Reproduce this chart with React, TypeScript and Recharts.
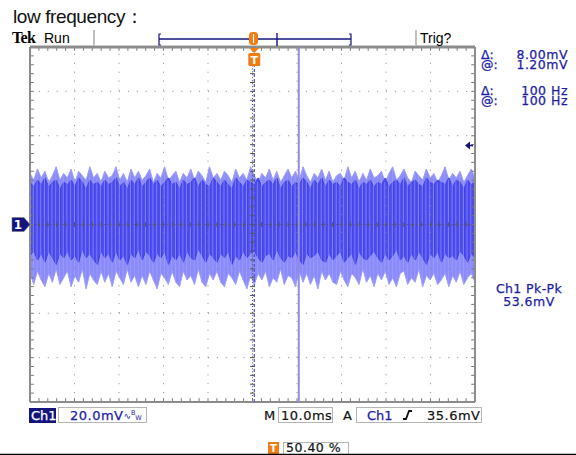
import React from "react";
import {
  ComposedChart,
  Area,
  Bar,
  XAxis,
  YAxis,
  ReferenceLine,
  ReferenceDot,
} from "recharts";

document.body.style.margin = "0";

// noise trace, in mV (20 mV/div), 120 samples over 100 ms
const SPIKE_HI = [
  23, 20, 25, 21, 24, 19, 22, 26, 20, 23,
  21, 25, 19, 24, 22, 20, 26, 21, 23, 19,
  24, 21, 22, 26, 20, 23, 19, 25, 21, 24,
  20, 22, 25, 19, 23, 21, 26, 20, 22, 24,
  19, 23, 21, 25, 20, 24, 22, 19, 26, 21,
  23, 20, 24, 22, 19, 25, 21, 23, 20, 26,
  22, 19, 23, 21, 25, 20, 24, 19, 22, 25,
  21, 24, 20, 26, 22, 19, 23, 21, 25, 20,
  24, 19, 22, 23, 20, 26, 21, 24, 19, 23,
  20, 25, 21, 22, 24, 19, 23, 26, 20, 22,
  25, 21, 19, 24, 22, 20, 25, 21, 23, 19,
  22, 26, 20, 23, 21, 24, 19, 22, 25, 21,
];
const SPIKE_LO = [
  -22, -27, -21, -25, -28, -22, -26, -20, -27, -24,
  -21, -28, -23, -26, -20, -29, -22, -25, -27, -21,
  -26, -22, -28, -21, -24, -27, -20, -26, -23, -28,
  -23, -27, -21, -25, -29, -22, -24, -27, -21, -26,
  -28, -21, -25, -23, -27, -20, -26, -28, -22, -25,
  -21, -26, -28, -22, -24, -27, -21, -25, -29, -23,
  -27, -22, -25, -21, -28, -24, -26, -20, -27, -23,
  -24, -28, -21, -26, -22, -27, -23, -29, -21, -25,
  -22, -26, -27, -21, -25, -28, -22, -24, -27, -20,
  -26, -23, -28, -22, -25, -21, -27, -24, -28, -22,
  -21, -27, -24, -26, -20, -28, -23, -25, -22, -27,
  -25, -22, -28, -23, -26, -21, -27, -24, -22, -26,
];
const BAND_HI = [
  19, 17, 20, 18, 21, 17, 19, 20, 16, 19,
  18, 20, 17, 21, 19, 16, 20, 18, 19, 17,
  20, 18, 19, 21, 17, 19, 16, 20, 18, 21,
  17, 19, 21, 18, 20, 17, 19, 21, 18, 19,
  16, 20, 18, 19, 21, 17, 20, 18, 17, 21,
  19, 17, 20, 18, 16, 21, 19, 17, 20, 19,
  18, 21, 17, 19, 20, 18, 21, 16, 19, 20,
  17, 19, 18, 21, 19, 16, 20, 18, 21, 17,
  20, 18, 19, 17, 21, 19, 18, 20, 16, 19,
  18, 20, 17, 19, 18, 21, 17, 19, 20, 18,
  21, 17, 19, 20, 18, 17, 21, 19, 18, 20,
  19, 18, 21, 17, 20, 19, 16, 20, 18, 19,
];
const BAND_LO = [
  -14, -12, -16, -13, -17, -12, -15, -18, -13, -15,
  -12, -16, -14, -17, -11, -15, -13, -16, -18, -12,
  -15, -13, -17, -12, -16, -14, -18, -13, -15, -11,
  -16, -12, -14, -17, -13, -15, -12, -18, -14, -16,
  -13, -17, -12, -15, -16, -11, -14, -17, -13, -15,
  -17, -13, -15, -12, -18, -14, -16, -12, -15, -13,
  -12, -15, -17, -14, -13, -16, -11, -15, -17, -14,
  -15, -12, -16, -18, -13, -15, -14, -12, -16, -17,
  -13, -16, -14, -12, -17, -15, -13, -18, -12, -15,
  -16, -14, -12, -15, -17, -13, -16, -14, -11, -16,
  -14, -17, -13, -16, -12, -15, -18, -13, -15, -12,
  -17, -13, -15, -14, -16, -12, -14, -17, -13, -15,
];

const SCREEN_MS = 100;
const TRIGGER_MS = 50.4;
const CURSOR_MS = 60.4;
const TRIGGER_LEVEL_MV = 35.6;

const X_MAJOR = [10, 20, 30, 40, 60, 70, 80, 90];
const Y_MAJOR = [-60, -40, -20, 20, 40, 60];
const X_MINOR = Array.from({ length: 51 }, (_, i) => i * 2);
const Y_MINOR = Array.from({ length: 41 }, (_, i) => -80 + i * 4);

const traceData = SPIKE_HI.map((_, i) => ({
  t: (i * SCREEN_MS) / (SPIKE_HI.length - 1),
  spikes: [SPIKE_LO[i], SPIKE_HI[i]],
  band: [BAND_LO[i], BAND_HI[i]],
}));

const BLUE = "#1c1ca6";
const NAVY = "#14147e";
const ORANGE = "#f07d12";
const MONO = "'DejaVu Sans', sans-serif";

function seg(key: string, a: any, b: any, color = "#777") {
  return (
    <ReferenceLine
      key={key}
      segment={[a, b]}
      stroke={color}
      strokeWidth={1}
      ifOverflow="visible"
    />
  );
}

function TriggerMarker(props: any) {
  const { cx, cy } = props;
  return (
    <g>
      <path d={`M${cx - 5},${cy + 1} L${cx + 5},${cy + 1} L${cx},${cy + 6} Z`} fill={ORANGE} />
      <rect x={cx - 6} y={cy + 6} width={12} height={13} rx={1.5} fill={ORANGE} />
      <text x={cx} y={cy + 17} textAnchor="middle" fontFamily={MONO} fontWeight="bold" fontSize={11} fill="#fff">
        T
      </text>
    </g>
  );
}

function ChannelMarker(props: any) {
  const { cx, cy } = props;
  return (
    <g>
      <path
        d={`M${cx - 18},${cy - 7} h12 l6,7 l-6,7 h-12 Z`}
        fill={NAVY}
        stroke="#777"
        strokeWidth={0.6}
      />
      <text x={cx - 12} y={cy + 4.5} textAnchor="middle" fontFamily={MONO} fontWeight="bold" fontSize={12} fill="#fff">
        1
      </text>
    </g>
  );
}

function LevelArrow(props: any) {
  const { cx, cy } = props;
  return (
    <g>
      <path d={`M${cx - 10},${cy} L${cx - 5},${cy - 4} L${cx - 5},${cy + 4} Z`} fill={NAVY} />
      <line x1={cx - 6} y1={cy} x2={cx - 2} y2={cy} stroke={NAVY} strokeWidth={1.6} />
    </g>
  );
}

function Overlay() {
  return (
    <svg
      width={576}
      height={455}
      style={{ position: "absolute", left: 0, top: 0, pointerEvents: "none" }}
    >
      <text x={13} y={23} fontFamily="'Liberation Sans', Arial, sans-serif" fontSize={19} letterSpacing={-0.4} fill="#111">
        low frequency：
      </text>

      <text x={12} y={43} fontFamily="'Liberation Serif', serif" fontWeight="bold" fontSize={16} letterSpacing={-0.6} fill="#000">
        Tek
      </text>
      <text x={44} y={43} fontFamily="'Liberation Sans', Arial, sans-serif" fontSize={14} fill="#000">
        Run
      </text>
      <text x={420} y={43} fontFamily="'Liberation Sans', Arial, sans-serif" fontSize={14} fill="#000">
        Trig?
      </text>

      <line x1={94} y1={30} x2={94} y2={46} stroke="#aaa" strokeWidth={1.5} />
      <line x1={416} y1={30} x2={416} y2={46} stroke="#aaa" strokeWidth={1.5} />
      <line x1={94} y1={45.5} x2={416} y2={45.5} stroke="#ccc" strokeWidth={1} />

      <line x1={159} y1={39} x2={351} y2={39} stroke={NAVY} strokeWidth={1.4} />
      <path d="M161,34 H159 V45 H161" fill="none" stroke={NAVY} strokeWidth={1.2} />
      <path d="M349,34 H351 V45 H349" fill="none" stroke={NAVY} strokeWidth={1.2} />
      <line x1={277} y1={33} x2={277} y2={46} stroke={NAVY} strokeWidth={1.4} />
      <rect x={249} y={32} width={9} height={13} rx={3.5} fill={ORANGE} />
      <line x1={253.5} y1={34} x2={253.5} y2={43} stroke="#fff" strokeWidth={1.2} />

      <g fontFamily={MONO} fontSize={12.5} fill={BLUE} stroke={BLUE} strokeWidth={0.25}>
        <text x={481} y={59}>Δ:</text>
        <text x={568} y={59} textAnchor="end" letterSpacing={0.5}>8.00mV</text>
        <text x={481} y={69}>@:</text>
        <text x={568} y={69} textAnchor="end" letterSpacing={0.5}>1.20mV</text>
        <text x={481} y={95}>Δ:</text>
        <text x={568} y={95} textAnchor="end" letterSpacing={0.5}>100 Hz</text>
        <text x={481} y={105}>@:</text>
        <text x={568} y={105} textAnchor="end" letterSpacing={0.5}>100 Hz</text>
        <text x={529} y={293} textAnchor="middle" letterSpacing={0.4}>Ch1 Pk-Pk</text>
        <text x={529} y={306} textAnchor="middle" letterSpacing={0.5}>53.6mV</text>
      </g>

      <rect x={29} y={408} width={27} height={15} fill={NAVY} />
      <text x={31} y={420} fontFamily={MONO} fontSize={13} fill="#fff" stroke="#fff" strokeWidth={0.25}>Ch1</text>
      <rect x={58.5} y={407.5} width={88} height={15} fill="none" stroke="#b5b5b5" />
      <text x={70} y={420} fontFamily={MONO} fill={BLUE}>
        <tspan fontSize={13} letterSpacing={0.5} stroke={BLUE} strokeWidth={0.25}>20.0mV</tspan>
        <tspan fontSize={9} dy={-1}>∿</tspan>
        <tspan fontSize={6.5} dy={-4}>B</tspan>
        <tspan fontSize={6.5} dy={5}>W</tspan>
      </text>

      <g fontFamily={MONO} fontSize={13} fill="#111" stroke="#111" strokeWidth={0.2}>
        <text x={264} y={420}>M</text>
        <text x={281} y={420} letterSpacing={0.5}>10.0ms</text>
        <text x={343} y={420}>A</text>
        <text x={427} y={420} letterSpacing={0.5}>35.6mV</text>
      </g>
      <rect x={278.5} y={407.5} width={54} height={15} fill="none" stroke="#b5b5b5" />
      <rect x={356.5} y={407.5} width={125} height={15} fill="none" stroke="#b5b5b5" />
      <text x={367} y={420} fontFamily={MONO} fontSize={13} fill={BLUE} stroke={BLUE} strokeWidth={0.25}>Ch1</text>
      <path d="M403,419 H406 L409,411 H412" fill="none" stroke="#111" strokeWidth={1.8} />

      <rect x={268} y={442} width={11} height={12} fill={ORANGE} />
      <text x={273.5} y={451.5} textAnchor="middle" fontFamily={MONO} fontWeight="bold" fontSize={10} fill="#fff">T</text>
      <rect x={283.5} y={442.5} width={65} height={13} fill="none" stroke="#b5b5b5" />
      <text x={286} y={452} fontFamily={MONO} fontSize={12.5} fill="#111" stroke="#111" strokeWidth={0.2} letterSpacing={0.5}>50.40 %</text>

      <line x1={0} y1={454.5} x2={576} y2={454.5} stroke="#000" strokeWidth={1.5} />
    </svg>
  );
}

export default function App() {
  return (
    <div style={{ position: "relative", width: 576, height: 455, background: "#fff", overflow: "hidden" }}>
      <ComposedChart
        width={576}
        height={455}
        data={traceData}
        margin={{ top: 47, right: 101, bottom: 53, left: 30 }}
      >
        <XAxis dataKey="t" type="number" domain={[0, SCREEN_MS]} allowDataOverflow hide />
        <YAxis type="number" domain={[-80, 80]} allowDataOverflow hide />

        <Area type="linear" dataKey="spikes" fill="#8a8afa" fillOpacity={1} stroke="#9c9cff" strokeWidth={1} dot={false} activeDot={false} isAnimationActive={false} />
        <Area type="linear" dataKey="band" fill="#4d4df0" fillOpacity={1} stroke="#4242ec" strokeWidth={1} dot={false} activeDot={false} isAnimationActive={false} />
        <Bar dataKey="spikes" barSize={1} fill="#a6a6ff" fillOpacity={0.6} isAnimationActive={false} />
        <Bar dataKey="band" barSize={1} fill="#2a2adc" fillOpacity={0.3} isAnimationActive={false} />

        {X_MAJOR.map((x) => (
          <ReferenceLine key={`gx${x}`} x={x} stroke="#8a8a8a" strokeDasharray="1 7.9" />
        ))}
        {Y_MAJOR.map((y) => (
          <ReferenceLine key={`gy${y}`} y={y} stroke="#8a8a8a" strokeDasharray="1 7.9" />
        ))}
        <ReferenceLine x={50} stroke="#555" strokeDasharray="1 1.97" />
        <ReferenceLine y={0} stroke="#555" strokeDasharray="1 1.97" />

        {X_MINOR.map((x) => seg(`ch${x}`, { x, y: -1.1 }, { x, y: 1.1 }, "#555"))}
        {Y_MINOR.map((y) => seg(`cv${y}`, { x: 49.45, y }, { x: 50.55, y }, "#555"))}
        {X_MINOR.map((x) => seg(`bt${x}`, { x, y: 80 }, { x, y: 78.3 }))}
        {X_MINOR.map((x) => seg(`bb${x}`, { x, y: -80 }, { x, y: -78.3 }))}
        {Y_MINOR.map((y) => seg(`bl${y}`, { x: 0, y }, { x: 0.85, y }))}
        {Y_MINOR.map((y) => seg(`br${y}`, { x: 100, y }, { x: 99.15, y }))}

        <ReferenceLine x={0} stroke="#8c8c8c" strokeWidth={2} ifOverflow="visible" />
        <ReferenceLine x={100} stroke="#8c8c8c" strokeWidth={2} ifOverflow="visible" />
        <ReferenceLine y={-80} stroke="#8c8c8c" strokeWidth={2} ifOverflow="visible" />
        <ReferenceLine y={80} stroke="#8c8c8c" strokeWidth={3} ifOverflow="visible" />

        <ReferenceLine x={TRIGGER_MS} stroke="#4d4dd6" strokeWidth={1.2} strokeDasharray="3 2" />
        <ReferenceLine x={CURSOR_MS} stroke="#8e8ee2" strokeWidth={2} />

        <ReferenceDot x={TRIGGER_MS} y={80} ifOverflow="visible" shape={TriggerMarker} />
        <ReferenceDot x={0} y={0} ifOverflow="visible" shape={ChannelMarker} />
        <ReferenceDot x={100} y={TRIGGER_LEVEL_MV} ifOverflow="visible" shape={LevelArrow} />
      </ComposedChart>
      <Overlay />
    </div>
  );
}
